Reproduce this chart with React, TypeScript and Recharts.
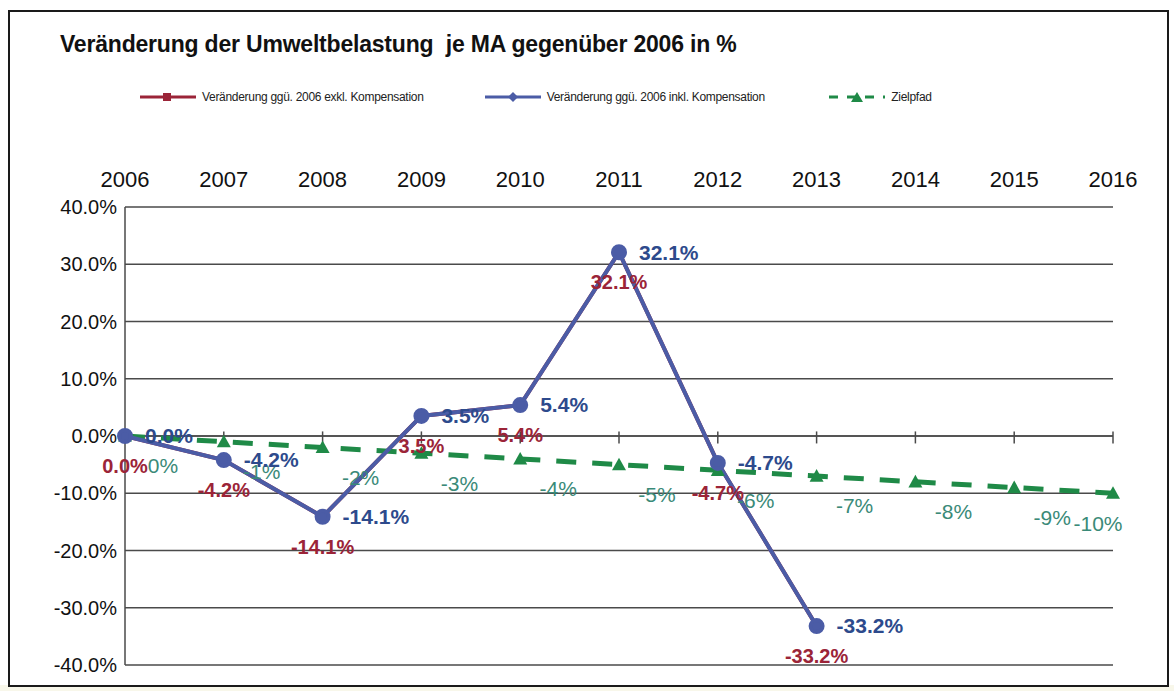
import { CartesianGrid, LabelList, Legend, Line, LineChart, ReferenceLine, XAxis, YAxis } from 'recharts';

const years = ['2006', '2007', '2008', '2009', '2010', '2011', '2012', '2013', '2014', '2015', '2016'];
const exklKompensation = [0.0, -4.2, -14.1, 3.5, 5.4, 32.1, -4.7, -33.2];
const inklKompensation = [0.0, -4.2, -14.1, 3.5, 5.4, 32.1, -4.7, -33.2];
const zielpfad = [0, -1, -2, -3, -4, -5, -6, -7, -8, -9, -10];
const yTicks = [40, 30, 20, 10, 0, -10, -20, -30, -40];

const RED = '#9b2438';
const BLUE = '#4b5ca6';
const BLUE_TEXT = '#2d4a8c';
const GREEN = '#1f8a47';
const GREEN_TEXT = '#3a8a78';
const FONT = 'Arial, "Liberation Sans", sans-serif';

const data = years.map((year, i) => ({
  year,
  exkl: exklKompensation[i] ?? null,
  inkl: inklKompensation[i] ?? null,
  ziel: zielpfad[i] ?? null,
}));

const pct1 = (v: number) => `${v.toFixed(1)}%`;

const redLabel = (p: any) =>
  p.value == null ? null : (
    <text key={`r${p.index}`} x={p.x} y={p.y + 30} dy="0.35em" textAnchor="middle" fill={RED} fontSize={20} fontWeight="bold" fontFamily={FONT}>
      {pct1(p.value)}
    </text>
  );

const blueLabel = (p: any) =>
  p.value == null ? null : (
    <text key={`b${p.index}`} x={p.x + 20} y={p.y} dy="0.35em" textAnchor="start" fill={BLUE_TEXT} fontSize={21} fontWeight="bold" fontFamily={FONT}>
      {pct1(p.value)}
    </text>
  );

const greenLabel = (p: any) => {
  if (p.value == null) return null;
  const last = p.index === zielpfad.length - 1;
  return (
    <text key={`g${p.index}`} x={last ? p.x - 15 : p.x + 38} y={p.y + 30} dy="0.35em" textAnchor="middle" fill={GREEN_TEXT} fontSize={21} fontFamily={FONT}>
      {`${p.value}%`}
    </text>
  );
};

const triangle = (p: any) => {
  if (p.cx == null || p.cy == null || p.value == null) return <g key={`t${p.index}`} />;
  const s = 7;
  return (
    <polygon key={`t${p.index}`} points={`${p.cx},${p.cy - s} ${p.cx - s},${p.cy + s * 0.8} ${p.cx + s},${p.cy + s * 0.8}`} fill={GREEN} />
  );
};

const renderLegend = () => {
  const items = [
    { label: 'Veränderung ggü. 2006 exkl. Kompensation', color: RED, marker: 'square', dashed: false },
    { label: 'Veränderung ggü. 2006 inkl. Kompensation', color: BLUE, marker: 'diamond', dashed: false },
    { label: 'Zielpfad', color: GREEN, marker: 'triangle', dashed: true },
  ];
  return (
    <div style={{ display: 'flex', paddingLeft: 140 }}>
      {items.map((it) => (
        <div key={it.label} style={{ width: 405, display: 'flex', alignItems: 'center' }}>
          <svg width={58} height={12}>
            <line x1={0} y1={6} x2={56} y2={6} stroke={it.color} strokeWidth={3} strokeDasharray={it.dashed ? '9 9' : undefined} />
            {it.marker === 'square' && <rect x={23} y={2} width={8} height={8} fill={it.color} />}
            {it.marker === 'diamond' && <polygon points="28,1 33,6 28,11 23,6" fill={it.color} />}
            {it.marker === 'triangle' && <polygon points="28,1 34,11 22,11" fill={it.color} />}
          </svg>
          <span style={{ fontSize: 12, color: '#222', marginLeft: 4, fontFamily: FONT, letterSpacing: -0.3 }}>{it.label}</span>
        </div>
      ))}
    </div>
  );
};

export default function App() {
  return (
    <div style={{ position: 'absolute', left: 0, top: 0, width: 1174, height: 691, background: '#fff', fontFamily: FONT }}>
      <div style={{ position: 'absolute', left: 0, top: 685, width: 1174, height: 6, background: '#f8f7ea' }} />
      <div style={{ position: 'absolute', left: 8, top: 10, width: 1157, height: 673, border: '2px solid #1a1a1a', background: '#fff' }} />
      <div style={{ position: 'absolute', left: 60, top: 31, fontSize: 23, fontWeight: 'bold', color: '#111', whiteSpace: 'nowrap', letterSpacing: -0.2 }}>
        Veränderung der Umweltbelastung&nbsp; je MA gegenüber 2006 in %
      </div>
      <div style={{ position: 'absolute', left: 0, top: 0 }}>
        <LineChart width={1174} height={691} data={data} margin={{ top: 153, right: 61, bottom: 26, left: 60 }}>
          <CartesianGrid vertical={false} stroke="#4a4a4a" strokeWidth={1.5} />
          <XAxis
            dataKey="year"
            orientation="top"
            height={40}
            axisLine={false}
            tickLine={false}
            tickMargin={14}
            tick={{ fontSize: 22, fill: '#111', fontFamily: FONT }}
            interval={0}
          />
          <YAxis
            domain={[-40, 40]}
            ticks={yTicks}
            width={65}
            axisLine={{ stroke: '#4a4a4a', strokeWidth: 1.5 }}
            tickLine={false}
            tickFormatter={pct1}
            tick={{ fontSize: 20, fill: '#111', fontFamily: FONT }}
            interval={0}
          />
          <Legend verticalAlign="top" wrapperStyle={{ top: 90, left: 0, width: 1174 }} content={renderLegend} />
          <ReferenceLine y={0} stroke="#4a4a4a" strokeWidth={1.5} />
          {years.map((y) => (
            <ReferenceLine key={y} segment={[{ x: y, y: -1.3 }, { x: y, y: 0.8 }]} stroke="#4a4a4a" strokeWidth={1.5} />
          ))}
          <Line dataKey="exkl" stroke={RED} strokeWidth={4} dot={{ r: 5, fill: RED, stroke: RED }} isAnimationActive={false}>
            <LabelList dataKey="exkl" content={redLabel} />
          </Line>
          <Line dataKey="ziel" stroke={GREEN} strokeWidth={5} strokeDasharray="20 16" dot={triangle} isAnimationActive={false}>
            <LabelList dataKey="ziel" content={greenLabel} />
          </Line>
          <Line dataKey="inkl" stroke={BLUE} strokeWidth={4} dot={{ r: 6, fill: BLUE, stroke: BLUE }} isAnimationActive={false}>
            <LabelList dataKey="inkl" content={blueLabel} />
          </Line>
        </LineChart>
      </div>
    </div>
  );
}
